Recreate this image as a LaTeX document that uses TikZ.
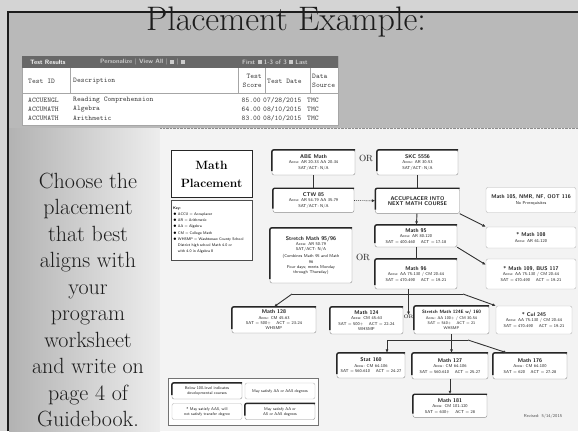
\documentclass[tikz,border=0pt]{standalone}
\usepackage{tikz}
\usetikzlibrary{arrows.meta,positioning,calc}
\definecolor{slide}{HTML}{B9B9B9}
\definecolor{slidetop}{HTML}{D4D4D4}
\definecolor{ink}{HTML}{1C1C1C}
\definecolor{bar}{HTML}{686868}
\definecolor{rule}{HTML}{A6A6A6}
\definecolor{chart}{HTML}{F3F3F3}
\newcommand{\crs}[1]{{\bfseries\fontsize{5.4}{6.4}\selectfont #1}}

\begin{document}
\begin{tikzpicture}[
 x=1pt,y=-1pt,
 stage/.style={rectangle,rounded corners=2pt,draw=black!45,fill=white,align=center,inner sep=1pt,font=\sffamily\fontsize{4.2}{5.4}\selectfont,text=ink},
 extra/.style={stage,draw=black!28},
 note/.style={stage,text width=62pt,minimum width=70pt,minimum height=16pt,font=\sffamily\fontsize{4}{5}\selectfont},
 tabtxt/.style={anchor=west,inner sep=0pt,font=\ttfamily\fontsize{7.2}{8.5}\selectfont,text=black!75},
 bartxt/.style={anchor=west,inner sep=0pt,font=\sffamily\bfseries\fontsize{6.3}{6.3}\selectfont,text=white!80!black},
 orword/.style={inner sep=0pt,font=\fontsize{9}{9}\selectfont,text=ink},
 link/.style={draw=black!80,line width=0.9pt},
 edge/.style={link,-{Latex[length=3.4pt,width=3pt]}},
 heavy/.style={line width=1.4pt,draw=black!85,rounded corners=2pt}
]
\useasboundingbox (0,0) rectangle (578,431);

% slide background
\fill[slidetop] (0,0) rectangle (578,431);
\fill[slide] (8,12) rectangle (578,431);
\shade[left color=black!30,right color=black!7] (9,128) rectangle (160,431);
\fill[chart] (160,128) rectangle (578,431);
\draw[densely dotted,black!45] (160,128) -- (578,128);
\draw[ink,line width=1.2pt] (8,431) -- (8,12) -- (578,12);

\node[font=\fontsize{34}{34}\selectfont,text=ink] (title) at (286,22) {Placement Example:};

% test results table
\node[draw=rule,fill=white,minimum width=316pt,minimum height=69pt,inner sep=0pt] (results) at (180,90.5) {};
\fill[bar] (results.north west) rectangle ([yshift=-12pt]results.north east);
\node[bartxt,text=white] (tr) at (30,62) {Test Results};
\node[bartxt] (pers) at (100,62) {Personalize | View All | \rule{4pt}{4pt} | \rule{4pt}{4pt}};
\node[bartxt] (nav) at (242,62) {First \rule{4pt}{4pt} 1-3 of 3 \rule{4pt}{4pt} Last};
\draw[rule] (22,93) -- (338,93);
\foreach \cx in {70,238,265,310}
  \draw[rule] (\cx,68) -- (\cx,93);
\node[tabtxt] (hid) at (28,81) {Test ID};
\node[tabtxt] (hdesc) at (73,81) {Description};
\node[tabtxt,anchor=east,align=right] (hscore) at (262,81) {Test\\Score};
\node[tabtxt] (hdate) at (267,81) {Test Date};
\node[tabtxt,align=left] (hsrc) at (312,81) {Data\\Source};
\foreach \ry/\tid/\tdesc/\tsc/\tdt in {100/ACCUENGL/Reading Comprehension/85.00/{07/28/2015},
    109/ACCUMATH/Algebra/64.00/{08/10/2015},118/ACCUMATH/Arithmetic/83.00/{08/10/2015}}{
  \node[tabtxt] at (28,\ry) {\tid};
  \node[tabtxt] at (73,\ry) {\tdesc};
  \node[tabtxt,anchor=east] at (261,\ry) {\tsc};
  \node[tabtxt] at (263,\ry) {\tdt};
  \node[tabtxt] at (307,\ry) {TMC};
}

\node[font=\fontsize{22}{26.5}\selectfont,align=center,text=ink] (advice) at (88,300)
  {Choose the\\placement\\that best\\aligns with\\your\\program\\worksheet\\and write on\\page 4 of\\Guidebook.};

% placement chart
\node[draw=black!85,fill=white,minimum width=81pt,minimum height=47pt,align=center,font=\bfseries\fontsize{12}{18}\selectfont] (head) at (211.5,174) {Math\\Placement};
\node[draw=black!70,fill=white,minimum width=81pt,minimum height=60pt,text width=77pt,inner sep=2pt,align=left,font=\sffamily\fontsize{3.8}{6.2}\selectfont] (key) at (211.5,230)
  {\textbf{Key:}\\
   $\bullet$ ACCU = Accuplacer\\
   $\bullet$ AR = Arithmetic\\
   $\bullet$ AA = Algebra\\
   $\bullet$ CM = College Math\\
   $\bullet$ WHSMP = Washtenaw County School\\
   \phantom{$\bullet$} District high school Math 4.0 or\\
   \phantom{$\bullet$} with 4.0 in Algebra II};

\node[stage,minimum width=83pt,minimum height=25pt] (abe) at (313.5,162.5) {\crs{ABE Math}\\Accu: AR 20-33 AA 20-34\\SAT/ACT: N/A};
\node[stage,minimum width=81pt,minimum height=25pt] (skc) at (417.5,162.5) {\crs{SKC 5556}\\Accu: AR 30-53\\SAT/ACT: N/A};
\node[orword] (or1) at (366,158) {OR};
\node[stage,minimum width=81pt,minimum height=24pt,below=13pt of abe] (ctw) {\crs{CTW 85}\\Accu: AR 54-79 AA 35-79\\SAT/ACT: N/A};
\node[stage,minimum width=84pt,minimum height=25pt,below=13pt of skc] (acc) {\crs{ACCUPLACER INTO}\\\crs{NEXT MATH COURSE}};
\node[extra,minimum width=90pt,minimum height=25pt] (nmr) at (531,200) {\crs{Math 105, NMR, NF, OOT 116}\\No Prerequisites};
\node[extra,minimum width=90pt,minimum height=21pt] (m108) at (531,237.5) {\crs{* Math 108}\\Accu: AR 61-120};
\node[stage,minimum width=82pt,minimum height=22pt] (m95a) at (416,236) {\crs{Math 95}\\Accu: AR 80-120\\SAT = 400-460 \quad ACT = 17-18};
\node[stage,minimum width=82pt,minimum height=55pt] (stretch) at (311,255.5)
  {\crs{Stretch Math 95/96}\\Accu: AR 50-79\\SAT/ACT: N/A\\[1.5pt](Combines Math 95 and Math\\96\\Four days; meets Monday\\through Thursday)};
\node[orword] (or2) at (363,257) {OR};
\node[stage,minimum width=82pt,minimum height=30pt] (m95b) at (416,274) {\crs{Math 96}\\Accu: AA 75-130 / CM 20-44\\SAT = 470-490 \quad ACT = 19-21};
\node[extra,minimum width=90pt,minimum height=30pt] (m109) at (531,274) {\crs{* Math 109, BUS 117}\\Accu: AA 75-130 / CM 20-44\\SAT = 470-490 \quad ACT = 19-21};

\node[stage,minimum width=84pt,minimum height=26pt] (m128) at (274,320) {\crs{Math 128}\\Accu: CM 45-63\\SAT = 500+ \quad ACT = 23-24\\WHSMP};
\node[stage,minimum width=73pt,minimum height=27pt] (m124) at (366.5,320.5) {\crs{Math 124}\\Accu: CM 45-63\\SAT = 500+ \quad ACT = 22-24\\WHSMP};
\node[orword,font=\fontsize{5}{5}\selectfont] (or3) at (408.5,317) {OR};
\node[stage,minimum width=75pt,minimum height=28pt,font=\sffamily\fontsize{4}{5.2}\selectfont] (s124) at (451.5,320) {{\bfseries\fontsize{4.7}{6}\selectfont Stretch Math 124E w/ 160}\\Accu: AA 100+ / CM 30-54\\SAT = 540+ \quad ACT = 21\\WHSMP};
\node[extra,minimum width=76pt,minimum height=28pt] (cul) at (534,320) {\crs{* Cul 245}\\Accu: AA 75-130 / CM 20-44\\SAT = 470-490 \quad ACT = 19-21};

\node[stage,minimum width=68pt,minimum height=25pt] (stat) at (371,365.5) {\crs{Stat 160}\\Accu: CM 64-106\\SAT = 560-610 \quad ACT = 24-27};
\node[stage,minimum width=76pt,minimum height=26pt] (m127) at (450,366) {\crs{Math 127}\\Accu: CM 64-106\\SAT = 560-610 \quad ACT = 25-27};
\node[stage,minimum width=74pt,minimum height=26pt] (m176) at (530,366) {\crs{Math 176}\\Accu: CM 64-100\\SAT = 620 \quad ACT = 27-28};
\node[stage,minimum width=74pt,minimum height=23pt,below=15pt of m127] (m181) {\crs{Math 181}\\Accu: CM 101-120\\SAT = 630+ \quad ACT = 28};
\node[font=\sffamily\fontsize{4.3}{5}\selectfont,text=black!70] (revised) at (543,416) {Revised: 5/14/2015};

% legend
\node[draw=black!55,fill=white,minimum width=150pt,minimum height=47pt] (legend) at (243,401.5) {};
\node[note] (devnote) at (207,391) {Below 100-level indicates developmental courses};
\node[note,draw=black!28] (aanote) at (280,391) {May satisfy AA or AAS degrees};
\node[note,draw=black!28] (aasnote) at (207,411.5) {* May satisfy AAS, will not satisfy transfer degree};
\node[note] (allnote) at (280,411.5) {May satisfy AA or AS or AAS degrees};

% heavy top and left edges
\foreach \n in {abe,skc,ctw,acc,stretch,m95a,m95b,m128,m124,s124,stat,m127,m176,m181,devnote,allnote}
  \draw[heavy] ([yshift=4pt]\n.south west) -- (\n.north west) -- (\n.north east);

% connectors
\draw[link] (abe) -- (ctw);
\draw[link] (skc) -- (acc);
\draw[edge,densely dotted,line width=0.7pt] (ctw) -- (acc);
\draw[edge] (acc) -- (m95a);
\draw[edge] (acc.south east) -- (m108.north west);
\draw[link] (m95a) -- (m95b);
\draw[edge] (m95a.south east) -- ([yshift=-6pt]m109.north west);
\coordinate (busa) at (292,294);
\coordinate (busb) at (463,294);
\draw[link] (busa) -- (busb);
\draw[edge] (busa) -- (m128.north);
\draw[edge] (busb) -- (cul.north west);
\draw[edge] (or3 |- m95b.south) -- (or3.north);
\coordinate (busc) at (387,340);
\coordinate (busd) at (468,340);
\draw[link] (busc) -- (busd);
\draw[edge] (busc) -- (busc |- stat.north);
\draw[edge] (s124.south) -- (s124.south |- m127.north);
\draw[edge] (busd) -- ([xshift=14pt]m176.north west);
\draw[edge] (m127) -- (m181);
\end{tikzpicture}
\end{document}
